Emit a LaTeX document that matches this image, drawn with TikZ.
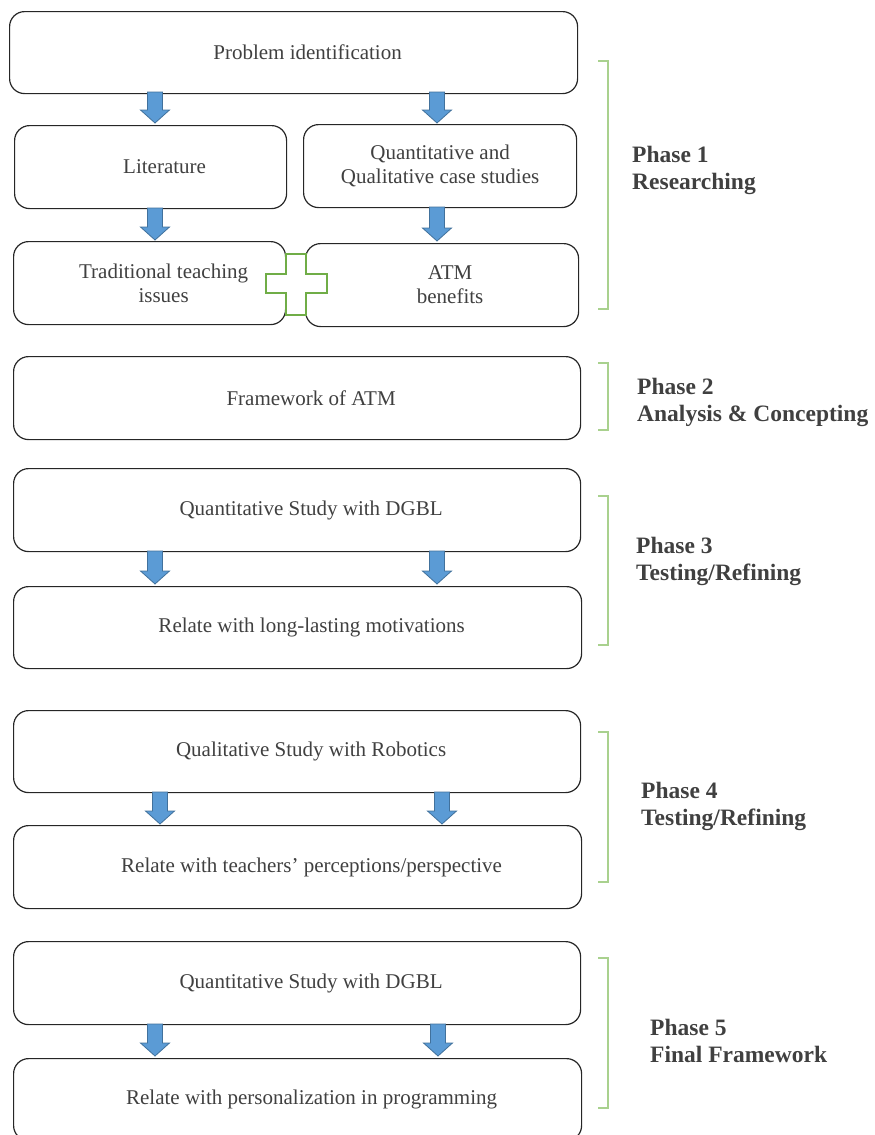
\documentclass[tikz,border=0pt]{standalone}
\usepackage{fontspec}
\setmainfont{Liberation Serif}
\definecolor{txt}{HTML}{404040}
\definecolor{arrfill}{HTML}{5B9BD5}
\definecolor{arrline}{HTML}{41719C}
\definecolor{plusc}{HTML}{70AD47}
\definecolor{bracec}{HTML}{A9D18E}
\tikzset{
  box/.style={draw=black!85, line width=1.2pt, rounded corners=15pt, fill=white, inner sep=0pt, anchor=north west},
  boxtext/.style={xshift=14pt, inner sep=0pt, text=txt, font=\fontsize{21}{24}\selectfont, align=center},
  phaselbl/.style={anchor=west, inner sep=0pt, text=txt, font=\fontsize{23.5}{27}\selectfont\bfseries, align=left},
  brk/.style={draw=bracec, line width=1.2pt},
  blockarrow/.style={fill=arrfill, draw=arrline, line width=0.8pt}
}
\newcommand{\barrow}[3]{% xc, ytop, ybottom
  \fill[blockarrow] (#1-7.5,#2) -- (#1+7.5,#2) -- (#1+7.5,#3-13) -- (#1+14.5,#3-13) -- (#1,#3) -- (#1-14.5,#3-13) -- (#1-7.5,#3-13) -- cycle;}
\newcommand{\brkt}[2]{% ytop, ybottom
  \draw[brk] (598,#1) -- (608,#1) -- (608,#2) -- (598,#2);}
\begin{document}
\begin{tikzpicture}[x=1pt,y=-1pt]
\useasboundingbox (0,0) rectangle (875,1135);
% Phase 1
\node[box, minimum width=568pt, minimum height=82pt, label={[boxtext]center:Problem identification}] (prob) at (9,11) {};
\node[box, minimum width=272pt, minimum height=83pt, label={[boxtext]center:Literature}] (lit) at (14,125) {};
\node[box, minimum width=273pt, minimum height=83pt, label={[boxtext, xshift=-14pt]center:{Quantitative and\\Qualitative case studies}}] (qq) at (303,124) {};
\node[box, minimum width=272pt, minimum height=83pt, label={[boxtext]center:{Traditional teaching\\issues}}] (trad) at (13,241) {};
\node[box, minimum width=273pt, minimum height=83pt, label={[boxtext, xshift=-6pt]center:{ATM\\benefits}}] (atm) at (305,243) {};
% plus
\draw[plusc, line width=2pt, fill=white] (286,254) -- (306,254) -- (306,274) -- (327,274) -- (327,293) -- (306,293) -- (306,315) -- (286,315) -- (286,293) -- (266,293) -- (266,274) -- (286,274) -- cycle;
% Phase 2
\node[box, minimum width=567pt, minimum height=83pt, label={[boxtext]center:Framework of ATM}] (fw) at (13,356) {};
% Phase 3
\node[box, minimum width=567pt, minimum height=83pt, label={[boxtext]center:Quantitative Study with DGBL}] (q3) at (13,468) {};
\node[box, minimum width=568pt, minimum height=82pt, label={[boxtext]center:Relate with long-lasting motivations}] (r3) at (13,586) {};
% Phase 4
\node[box, minimum width=567pt, minimum height=82pt, label={[boxtext]center:Qualitative Study with Robotics}] (q4) at (13,710) {};
\node[box, minimum width=568pt, minimum height=83pt, label={[boxtext]center:Relate with teachers’ perceptions/perspective}] (r4) at (13,825) {};
% Phase 5
\node[box, minimum width=567pt, minimum height=83pt, label={[boxtext]center:Quantitative Study with DGBL}] (q5) at (13,941) {};
\node[box, minimum width=568pt, minimum height=82pt, label={[boxtext]center:Relate with personalization in programming}] (r5) at (13,1058) {};
% arrows
\barrow{155}{92}{123}
\barrow{437}{92}{123}
\barrow{155}{208}{240}
\barrow{437}{207}{241}
\barrow{155}{551}{584}
\barrow{437}{551}{584}
\barrow{160}{792}{824}
\barrow{442}{792}{824}
\barrow{155}{1024}{1056}
\barrow{438}{1024}{1056}
% brackets
\brkt{61}{309}
\brkt{363}{430}
\brkt{496}{645}
\brkt{732}{882}
\brkt{958}{1108}
% phase labels
\node[phaselbl] (p1) at (632,170.5) {Phase 1\\Researching};
\node[phaselbl] (p2) at (637,402.5) {Phase 2\\Analysis \& Concepting};
\node[phaselbl] (p3) at (636,561.5) {Phase 3\\Testing/Refining};
\node[phaselbl] (p4) at (641,806.5) {Phase 4\\Testing/Refining};
\node[phaselbl] (p5) at (650,1041) {Phase 5\\Final Framework};
\end{tikzpicture}
\end{document}
